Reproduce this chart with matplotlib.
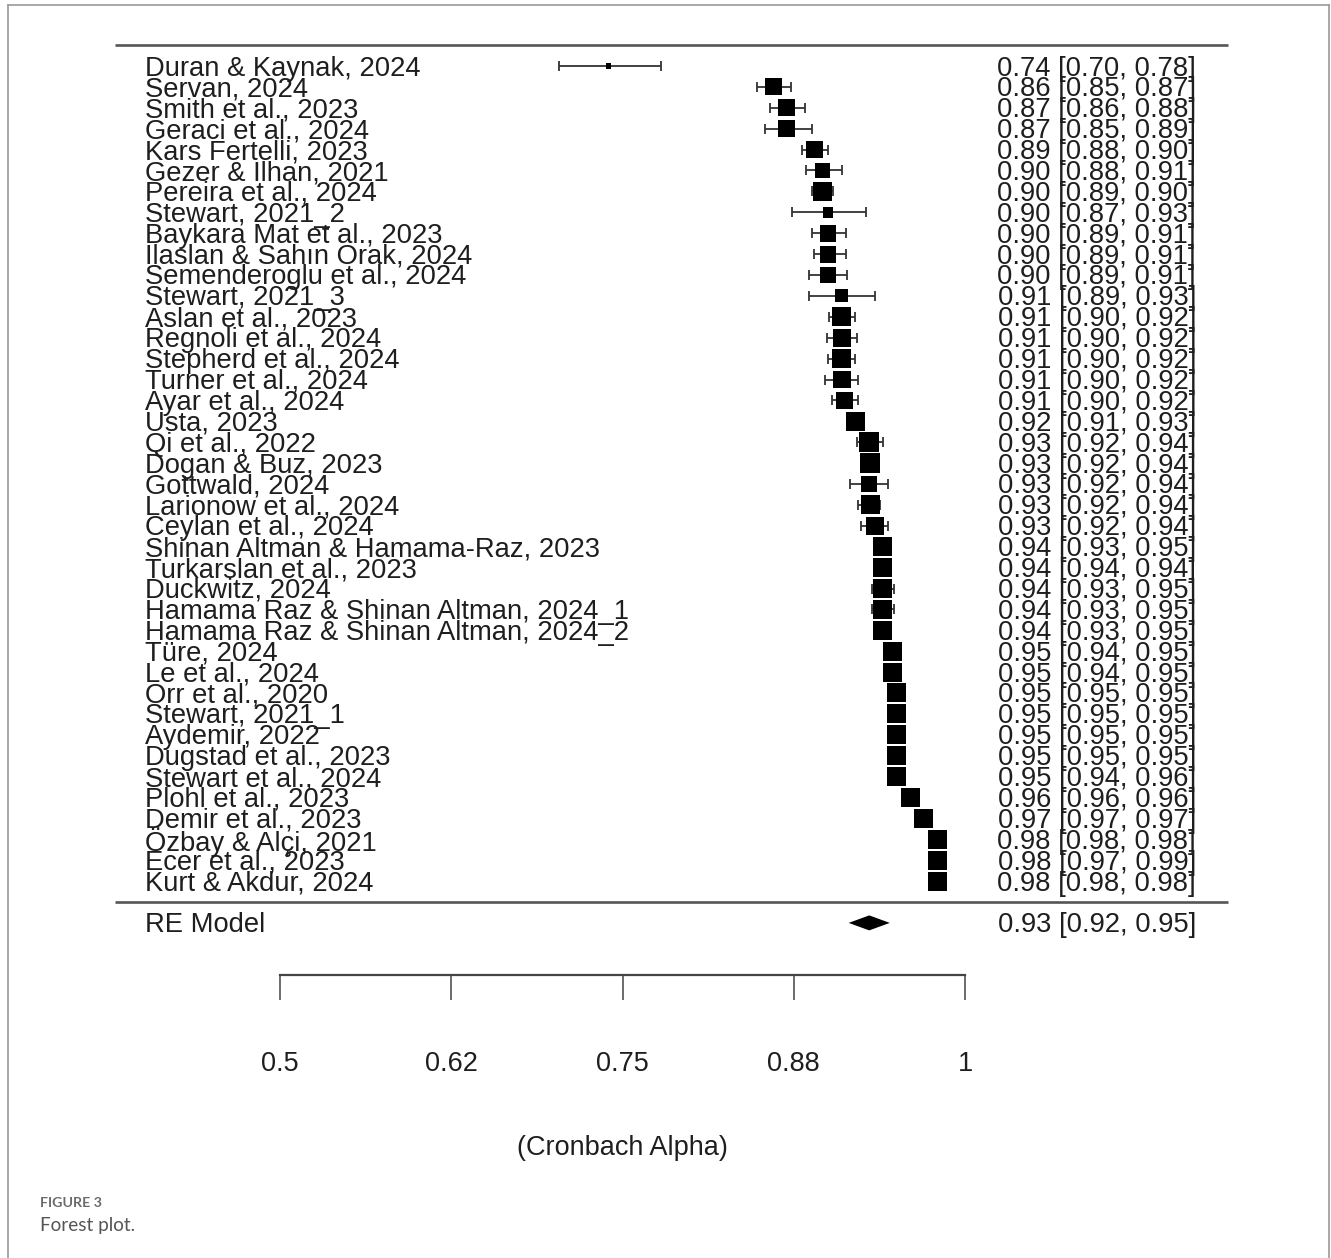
import matplotlib
matplotlib.use('Agg')
import matplotlib.pyplot as plt
from matplotlib.lines import Line2D
import numpy as np

# ---------------- data ----------------
studies = [
    "Duran & Kaynak, 2024", "Servan, 2024", "Smith et al., 2023", "Geraci et al., 2024",
    "Kars Fertelli, 2023", "Gezer & Ilhan, 2021", "Pereira et al., 2024", "Stewart, 2021_2",
    "Baykara Mat et al., 2023", "Ilaslan & Sahın Orak, 2024", "Semenderoglu et al., 2024",
    "Stewart, 2021_3", "Aslan et al., 2023", "Regnoli et al., 2024", "Stepherd et al., 2024",
    "Turner et al., 2024", "Ayar et al., 2024", "Usta, 2023", "Qi et al., 2022",
    "Dogan & Buz, 2023", "Gottwald, 2024", "Larionow et al., 2024", "Ceylan et al., 2024",
    "Shinan Altman & Hamama-Raz, 2023", "Turkarslan et al., 2023", "Duckwitz, 2024",
    "Hamama Raz & Shinan Altman, 2024_1", "Hamama Raz & Shinan Altman, 2024_2",
    "Türe, 2024", "Le et al., 2024", "Orr et al., 2020", "Stewart, 2021_1", "Aydemir, 2022",
    "Dugstad et al., 2023", "Stewart et al., 2024", "Plohl et al., 2023", "Demir et al., 2023",
    "Özbay & Alçi, 2021", "Ecer et al., 2023", "Kurt & Akdur, 2024",
]
est = [0.740, 0.860, 0.870, 0.870, 0.890, 0.896, 0.896, 0.900, 0.900, 0.900, 0.900,
       0.910, 0.910, 0.910, 0.910, 0.910, 0.912, 0.920, 0.930, 0.931, 0.930, 0.931, 0.934,
       0.940, 0.940, 0.940, 0.940, 0.940, 0.947, 0.947, 0.950, 0.950, 0.950, 0.950, 0.950,
       0.960, 0.970, 0.980, 0.980, 0.980]
ci_lo = [0.704, 0.848, 0.858, 0.854, 0.881, 0.884, 0.888, 0.874, 0.888, 0.890, 0.886,
         0.886, 0.901, 0.899, 0.900, 0.898, 0.903, 0.914, 0.921, 0.924, 0.916, 0.922, 0.924,
         0.934, 0.936, 0.932, 0.932, 0.934, 0.944, 0.942, 0.947, 0.947, 0.947, 0.947, 0.944,
         0.957, 0.966, 0.977, 0.974, 0.977]
ci_hi = [0.778, 0.873, 0.883, 0.888, 0.900, 0.910, 0.904, 0.928, 0.913, 0.913, 0.914,
         0.934, 0.920, 0.921, 0.920, 0.922, 0.922, 0.926, 0.940, 0.937, 0.944, 0.938, 0.944,
         0.946, 0.944, 0.948, 0.948, 0.946, 0.953, 0.952, 0.953, 0.953, 0.953, 0.953, 0.956,
         0.963, 0.973, 0.983, 0.986, 0.983]
weights = [0.19, 2.16, 2.16, 2.16, 2.16, 1.68, 2.70, 0.90, 2.16, 2.16, 2.16,
           1.26, 2.70, 2.42, 2.70, 2.42, 2.16, 2.70, 2.99, 2.99, 1.91, 2.70, 2.42,
           2.70, 2.70, 2.70, 2.70, 2.70, 2.70, 2.70, 2.70, 2.70, 2.70, 2.70, 2.70,
           2.70, 2.70, 2.70, 2.70, 2.70]
re_label = "RE Model"
re_est, re_lo, re_hi = 0.9301, 0.9151, 0.9451
tick_values = [0.5, 0.625, 0.75, 0.875, 1.0]
tick_labels = ["0.5", "0.62", "0.75", "0.88", "1"]
xlabel = "(Cronbach Alpha)"

# ---------------- layout ----------------
W, H = 1331, 1258
DPI = 100
X_PX_05 = 280.0      # pixel of alpha = 0.5
PX_PER_UNIT = 1370.0
ROW_TOP_PX = 66.0
ROW_H = 20.9
k = len(studies)

def px2x(px):
    return 0.5 + (px - X_PX_05) / PX_PER_UNIT

def py2row(py):
    return k - (py - ROW_TOP_PX) / ROW_H

plt.rcParams['font.family'] = ['Liberation Sans', 'DejaVu Sans']
fig = plt.figure(figsize=(W / DPI, H / DPI), dpi=DPI)
ax = fig.add_axes([0, 0, 1, 1])
ax.set_xlim(px2x(0), px2x(W))
ax.set_ylim(py2row(H), py2row(0))

rows = np.arange(k, 0, -1)
est_a = np.array(est)
lo_a = np.array(ci_lo)
hi_a = np.array(ci_hi)
w_a = np.array(weights)

TXT = '#1e1e1e'
FS = 19.7
TOFF = 2.5 / ROW_H   # text baseline nudge (down)

# horizontal separator lines
ax.plot([px2x(115), px2x(1228)], [k + 1, k + 1], color='#555555', lw=1.9, solid_capstyle='butt')
ax.plot([px2x(115), px2x(1228)], [0, 0], color='#555555', lw=1.9, solid_capstyle='butt')

# whiskers
ax.errorbar(est_a, rows, xerr=[est_a - lo_a, hi_a - est_a], fmt='none',
            ecolor='#333333', elinewidth=1.3, capsize=3.3, capthick=1.3, zorder=2)

# squares sized by weight
side_px = 19.0 * np.sqrt(w_a / 2.70)
side_pt = side_px * 72.0 / DPI
ax.scatter(est_a, rows, s=side_pt ** 2, marker='s', c='black', linewidths=0, zorder=3)

# labels and CI texts
for r, name, e, lo, hi in zip(rows, studies, est, ci_lo, ci_hi):
    ax.text(px2x(145), r - TOFF, name, ha='left', va='center', fontsize=FS, color=TXT)
    ax.text(px2x(1196), r - TOFF, f"{e:.2f} [{lo:.2f}, {hi:.2f}]", ha='right', va='center',
            fontsize=FS, color=TXT)

# summary
re_row = -1
hh = 7.5 / ROW_H
ax.fill([re_lo, re_est, re_hi, re_est], [re_row, re_row + hh, re_row, re_row - hh],
        color='black', lw=0, zorder=3)
ax.text(px2x(145), re_row - TOFF, re_label, ha='left', va='center', fontsize=FS, color=TXT)
ax.text(px2x(1196), re_row - TOFF, f"{re_est:.2f} [{re_lo:.2f}, {re_hi:.2f}]", ha='right',
        va='center', fontsize=FS, color=TXT)

# x axis
for s in ['top', 'right', 'left']:
    ax.spines[s].set_visible(False)
ax.spines['bottom'].set_position(('data', py2row(975)))
ax.spines['bottom'].set_bounds(tick_values[0], tick_values[-1])
ax.spines['bottom'].set_color('#444444')
ax.spines['bottom'].set_linewidth(1.6)
ax.set_yticks([])
ax.set_xticks(tick_values)
ax.set_xticklabels(tick_labels)
ax.tick_params(axis='x', direction='out', length=18, width=1.1, color='#444444',
               pad=37, labelsize=19.5, labelcolor=TXT)
ax.text(0.75, py2row(1148), xlabel, ha='center', va='center', fontsize=19.5, color=TXT)

# figure frame and caption
fc = '#9a9a9a'
fig.add_artist(Line2D([8 / W, 8 / W], [0, 1 - 5 / H], transform=fig.transFigure, color=fc, lw=1.2))
fig.add_artist(Line2D([8 / W, 1329 / W], [1 - 5 / H, 1 - 5 / H], transform=fig.transFigure, color=fc, lw=1.2))
fig.add_artist(Line2D([1329 / W, 1329 / W], [0, 1 - 5 / H], transform=fig.transFigure, color=fc, lw=1.2))
fig.text(40 / W, 1 - 1203 / H, "FIGURE 3", ha='left', va='center', fontsize=10.3,
         color='#6b6b6b', family=['Lato', 'DejaVu Sans'], fontweight='bold')
fig.text(40 / W, 1 - 1226 / H, "Forest plot.", ha='left', va='center', fontsize=13.6,
         color='#555555', family=['Lato', 'DejaVu Sans'])

fig.savefig('out.png', dpi=DPI)
